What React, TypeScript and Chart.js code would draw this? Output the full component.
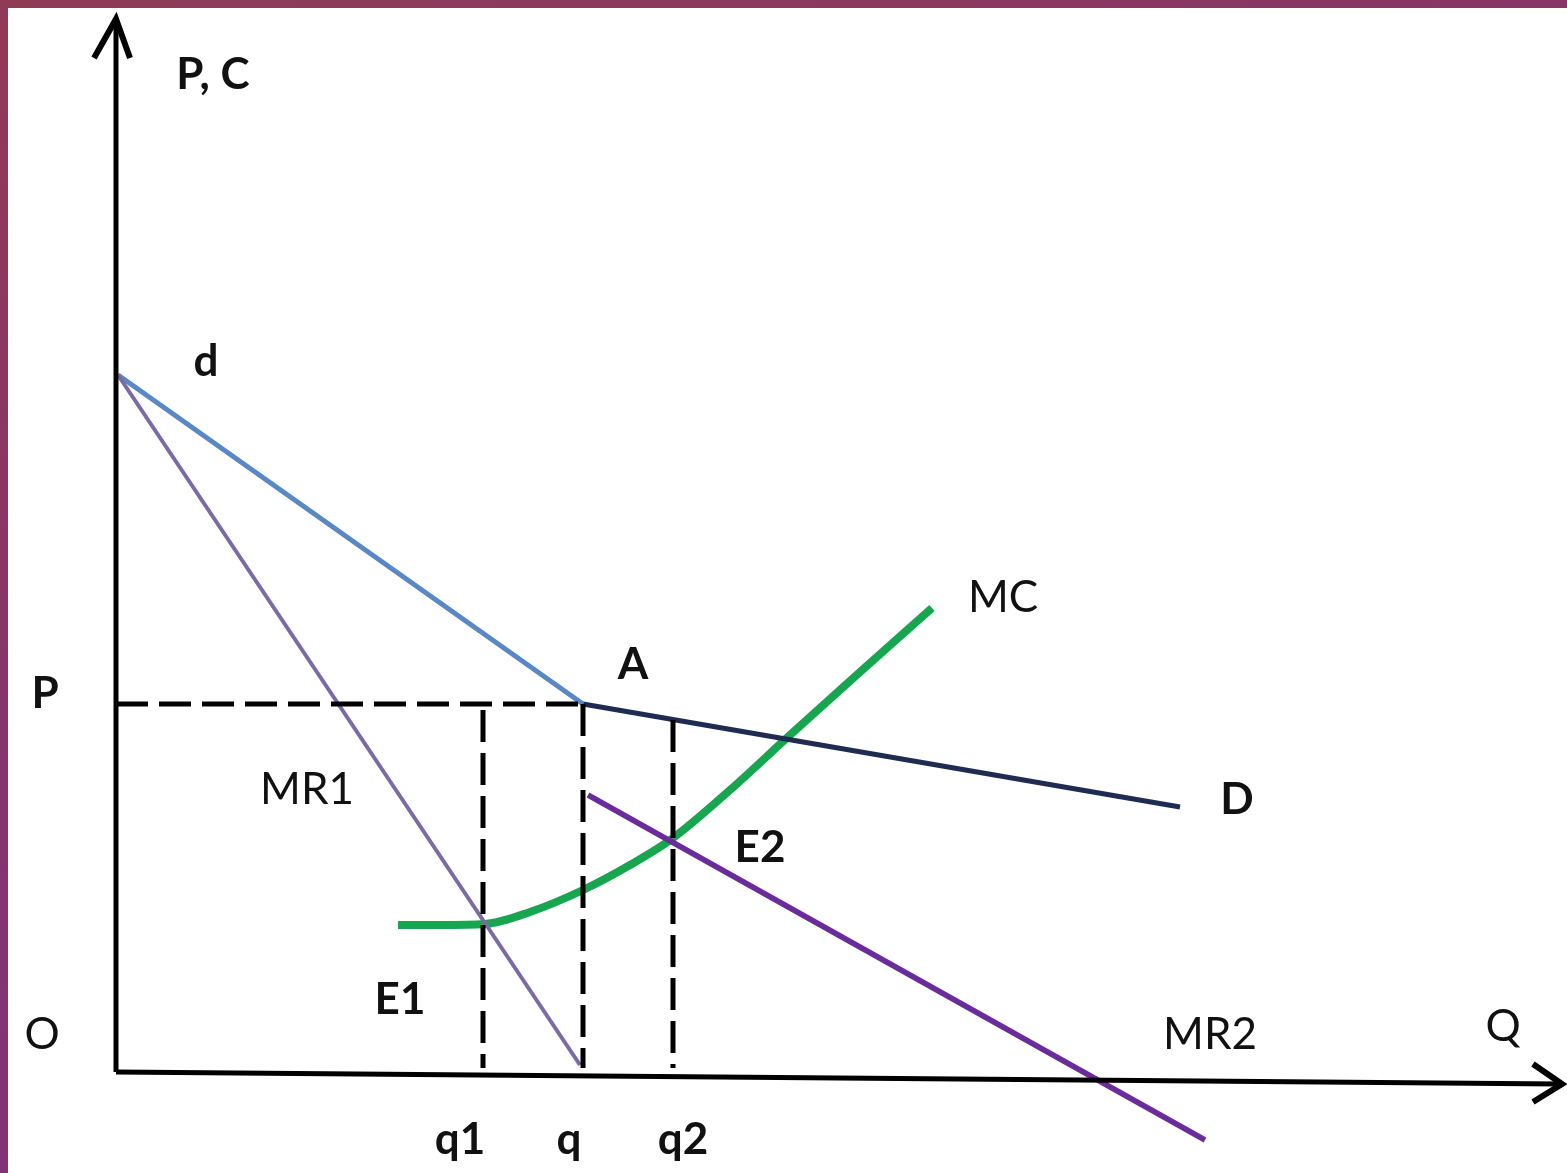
import { useEffect, useRef } from 'react'
import { Chart, registerables } from 'chart.js'

Chart.register(...registerables)

// quantities on the Q axis
const qLabels = ['q1', 'q', 'q2']
const qValues = [36.7, 46.7, 55.7]
const qDashTop = [36.2, 36.8, 35.2]
const priceP = 36.8

// demand: elastic part d-A and inelastic part A-D
const dUpperQ = [0.2, 46.7]
const dUpperP = [69.7, 36.8]
const dLowerQ = [46.7, 106.4]
const dLowerP = [36.8, 26.5]

// marginal revenue segments
const mr1Q = [0.2, 46.4]
const mr1P = [69.7, 0.7]
const mr2Q = [47.2, 108.9]
const mr2P = [27.7, -6.8]

// marginal cost
const mcQ = [28.2, 32.4, 36.9, 41.4, 46.7, 51.4, 55.7, 61.4, 67.4, 74.4, 81.6]
const mcC = [14.7, 14.7, 14.8, 16.0, 18.2, 20.7, 23.4, 28.2, 33.7, 40.0, 46.4]

// axes
const yAxisQ = [0, 0]
const yAxisP = [0, 104.8]
const xAxisQ = [0, 144.4]
const xAxisP = [0, -1.2]
const yArrowQ = [-2.2, 0, 1.4]
const yArrowP = [101.4, 105.3, 101.4]
const xArrowQ = [141.7, 144.6, 141.7]
const xArrowP = [0.8, -1.2, -3.0]

// text annotations
const labelText = ['P, C', 'd', 'MC', 'A', 'P', 'MR1', 'D', 'E2', 'E1', 'O', 'MR2', 'Q']
const labelQ = [9.7, 9.0, 88.7, 51.7, -7.1, 19.1, 112.1, 64.4, 28.4, -7.4, 109.4, 138.7]
const labelP = [99.7, 71.0, 47.4, 40.7, 37.8, 28.2, 27.2, 22.4, 7.2, 3.7, 3.7, 4.5]
const labelBold = [true, true, false, true, true, false, true, true, true, false, false, false]
const qLabelP = -6.8

const pts = (xs: number[], ys: number[]) => xs.map((x, i) => ({ x, y: ys[i] }))

const line = (data: { x: number; y: number }[], color: string, width: number, extra: object = {}) => ({
  data,
  borderColor: color,
  backgroundColor: color,
  borderWidth: width,
  showLine: true,
  pointRadius: 0,
  fill: false,
  tension: 0,
  ...extra,
})

const labelsPlugin = {
  id: 'labels',
  afterDatasetsDraw(chart: Chart) {
    const { ctx, scales } = chart
    const x = scales.x
    const y = scales.y
    ctx.save()
    ctx.fillStyle = '#111'
    ctx.textAlign = 'center'
    ctx.textBaseline = 'middle'
    labelText.forEach((t, i) => {
      ctx.font = `${labelBold[i] ? 'bold ' : ''}44px Lato, "Open Sans", sans-serif`
      ctx.fillText(t, x.getPixelForValue(labelQ[i]), y.getPixelForValue(labelP[i]))
    })
    ctx.font = 'bold 44px Lato, "Open Sans", sans-serif'
    qLabels.forEach((t, i) => {
      const off = i === 0 ? -2.3 : i === 1 ? -1.4 : 1.0
      ctx.fillText(t, x.getPixelForValue(qValues[i] + off), y.getPixelForValue(qLabelP))
    })
    ctx.restore()
  },
}

export default function App() {
  const canvasRef = useRef<HTMLCanvasElement>(null)
  const chartRef = useRef<Chart | null>(null)

  useEffect(() => {
    if (!canvasRef.current) return
    const ctx = canvasRef.current.getContext('2d')
    if (!ctx) return
    if (chartRef.current) {
      chartRef.current.destroy()
      chartRef.current = null
    }

    const dash = { borderDash: [32, 11] }
    const datasets: any[] = [
      line(pts([0, qValues[1]], [priceP, priceP]), '#000', 5, dash),
      ...qValues.map((q, i) => line(pts([q, q], [qDashTop[i], 0.4]), '#000', 5, dash)),
      line(pts(yAxisQ, yAxisP), '#000', 5),
      line(pts(xAxisQ, xAxisP), '#000', 5),
      line(pts(yArrowQ, yArrowP), '#000', 6),
      line(pts(xArrowQ, xArrowP), '#000', 6),
      line(pts(mr1Q, mr1P), '#7b6aa6', 4),
      line(pts(mr2Q, mr2P), '#6a2c9a', 5.5),
      line(pts(dUpperQ, dUpperP), '#5a88c4', 5),
      line(pts(dLowerQ, dLowerP), '#1f2b50', 5),
      line(pts(mcQ, mcC), '#17a64f', 8, { tension: 0.4, cubicInterpolationMode: 'monotone' }),
    ]

    chartRef.current = new Chart(ctx, {
      type: 'scatter',
      data: { datasets },
      options: {
        responsive: true,
        maintainAspectRatio: false,
        animation: false,
        layout: { padding: 0 },
        plugins: { legend: { display: false }, tooltip: { enabled: false } },
        scales: {
          x: { type: 'linear', min: -11.6, max: 145.1, display: false },
          y: { type: 'linear', min: -10.1, max: 107.2, display: false },
        },
        elements: { line: { borderCapStyle: 'butt' } },
      },
      plugins: [labelsPlugin],
    })

    return () => {
      if (chartRef.current) {
        chartRef.current.destroy()
        chartRef.current = null
      }
    }
  }, [])

  return (
    <div
      style={{
        position: 'fixed',
        inset: 0,
        background: 'linear-gradient(160deg, #8f3b56 0%, #833470 50%, #7a2f80 100%)',
      }}
    >
      <div style={{ position: 'absolute', left: 8, top: 8, right: 0, bottom: 0, background: '#fff' }} />
      <div style={{ position: 'absolute', left: 0, top: 0, width: '100%', height: '100%' }}>
        <canvas ref={canvasRef} />
      </div>
    </div>
  )
}
